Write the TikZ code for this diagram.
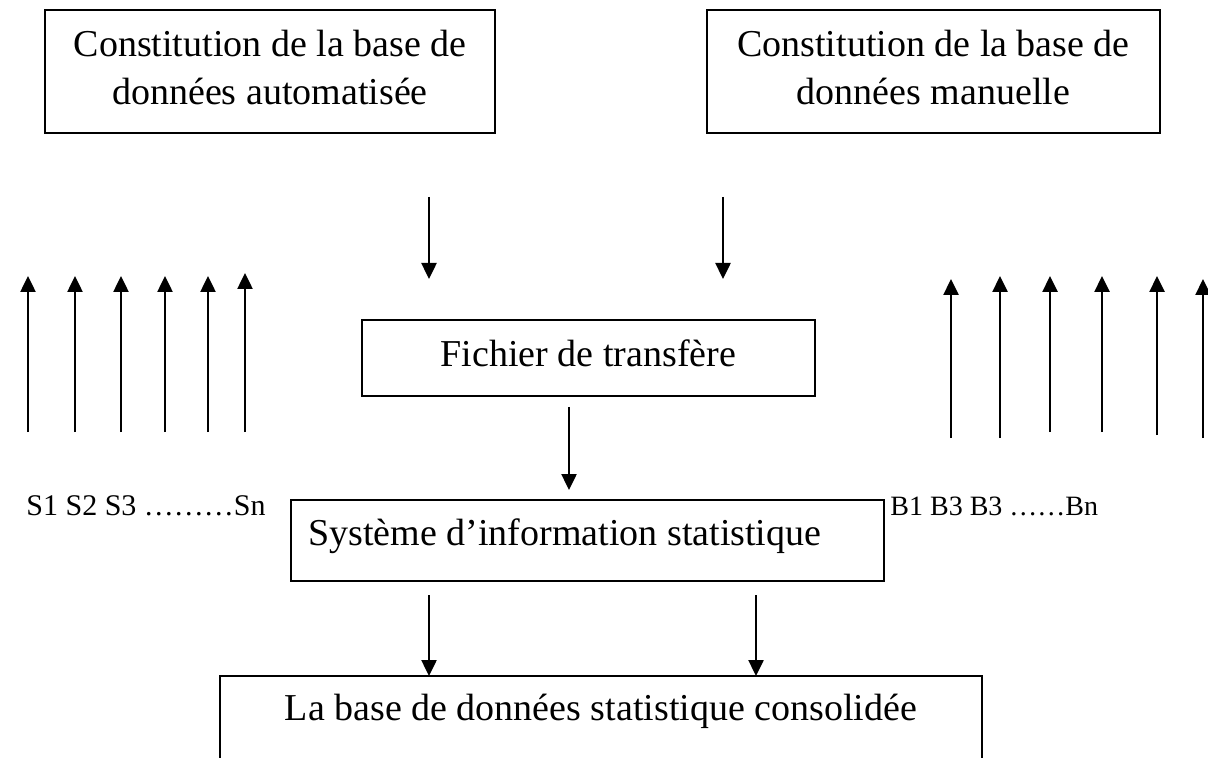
\documentclass[tikz,border=0pt]{standalone}
\usepackage{fontspec}
\setmainfont{Liberation Serif}
\usetikzlibrary{arrows.meta}
\begin{document}
\begin{tikzpicture}[x=0.5pt,y=-0.5pt,
  box/.style={draw,line width=1pt,inner sep=0pt},
  txt/.style={inner sep=0pt,font=\fontsize{19}{24}\selectfont},
  idx/.style={inner sep=0pt,font=\fontsize{15}{18}\selectfont},
  idxb/.style={inner sep=0pt,font=\fontsize{14}{17}\selectfont},
  flow/.style={line width=1.25pt,-{Triangle[width=7.5pt,length=8pt]}}]
\useasboundingbox (0,0) rectangle (1208,758);
\clip (0,0) rectangle (1208,758);

% source boxes
\node[box,minimum width=225pt,minimum height=61.5pt] (auto) at (270,71.5) {};
\node[txt,anchor=base] (auto1) at (270,57) {Constitution de la base de};
\node[txt,anchor=base] (auto2) at (270,105) {données automatisée};

\node[box,minimum width=226.5pt,minimum height=61.5pt] (manu) at (933.5,71.5) {};
\node[txt,anchor=base] (manu1) at (933.5,57) {Constitution de la base de};
\node[txt,anchor=base] (manu2) at (933.5,105) {données manuelle};

% transfer file
\node[box,minimum width=226.5pt,minimum height=38pt] (fich) at (588.5,358) {};
\node[txt,anchor=base] (ficht) at (588.5,367) {Fichier de transfère};

% statistical information system
\node[box,minimum width=296.5pt,minimum height=40.5pt] (sis) at (587.5,540.5) {};
\node[txt,anchor=base west] (sist) at (308,545) {Système d’information statistique};

% consolidated database (runs off the bottom edge)
\node[box,minimum width=381pt,minimum height=80pt] (cons) at (601,756) {};
\node[txt,anchor=base] (const) at (601,720) {La base de données statistique consolidée};

% series labels
\node[idx,anchor=base west] (slab) at (26,515) {S1 S2 S3 ………Sn};
\node[idxb,anchor=base west] (blab) at (890,515) {B1 B3 B3 ……Bn};

% flows between the boxes
\coordinate (a1) at (429,197); \coordinate (a2) at (429,279);
\coordinate (m1) at (723,197); \coordinate (m2) at (723,279);
\coordinate (f1) at (569,407); \coordinate (f2) at (569,490);
\coordinate (c1) at (429,595); \coordinate (c2) at (429,676);
\coordinate (d1) at (756,595); \coordinate (d2) at (756,676);
\draw[flow] (a1) -- (a2);
\draw[flow] (m1) -- (m2);
\draw[flow] (f1) -- (f2);
\draw[flow] (c1) -- (c2);
\draw[flow] (d1) -- (d2);

% S series arrows
\foreach \x/\t [count=\i] in {28/276,75/276,121/276,165/276,208/276,245/273}{
  \coordinate (sb\i) at (\x,432); \coordinate (st\i) at (\x,\t);
  \draw[flow] (sb\i) -- (st\i);
}
% B series arrows
\foreach \x/\b/\t [count=\i] in {951/438/279,1000/438/276,1050/432/276,1102/432/276,1157/435/276,1203/438/279}{
  \coordinate (bb\i) at (\x,\b); \coordinate (bt\i) at (\x,\t);
  \draw[flow] (bb\i) -- (bt\i);
}
\end{tikzpicture}
\end{document}
